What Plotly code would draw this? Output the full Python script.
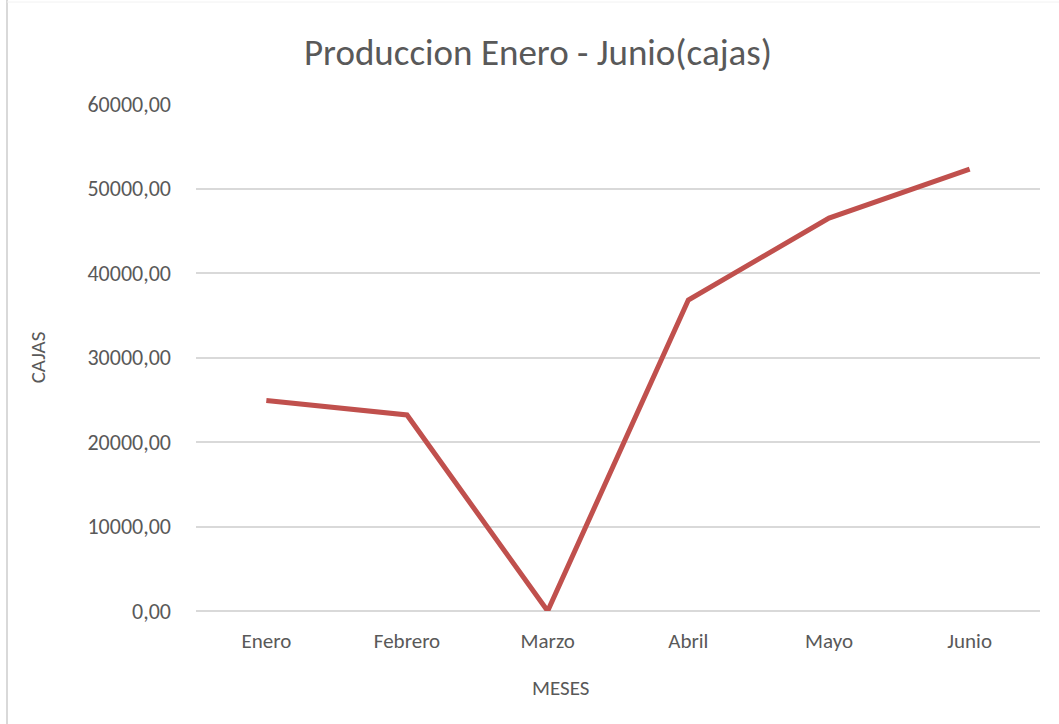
import plotly.graph_objects as go

months = ["Enero", "Febrero", "Marzo", "Abril", "Mayo", "Junio"]
cajas = [24900, 23200, 0, 36800, 46500, 52300]
y_ticks = [0, 10000, 20000, 30000, 40000, 50000, 60000]

FONT = "Carlito, 'Liberation Sans Narrow', Lato, sans-serif"
GREY = "#595959"

fig = go.Figure()
fig.add_trace(go.Scatter(
    x=months, y=cajas, mode="lines",
    line=dict(color="#C0504D", width=5),
    hoverinfo="x+y",
))

PW, PH = 844, 507  # plot area size in px
fig.update_layout(
    width=1059, height=724,
    margin=dict(l=196, r=19, t=104, b=113),
    paper_bgcolor="white", plot_bgcolor="white",
    separators=",.",
    showlegend=False,
    font=dict(family=FONT, color=GREY, size=22),
    title=dict(text="Produccion Enero - Junio(cajas)", x=0.508, xanchor="center",
               y=1 - 52 / 724, yanchor="middle", font=dict(size=37, color=GREY, family=FONT)),
    xaxis=dict(
        range=[-0.5, 5.5], showgrid=False, zeroline=False, showline=False,
        ticks="", tickfont=dict(size=21, color=GREY),
        ticklabelstandoff=15,
    ),
    yaxis=dict(
        range=[0, 60000], tickvals=y_ticks, tickformat=".2f",
        showgrid=True, gridcolor="#d9d9d9", gridwidth=1.5,
        zeroline=True, zerolinecolor="#d9d9d9", zerolinewidth=1.5,
        showline=False, ticks="", tickfont=dict(size=22, color=GREY),
        ticklabelstandoff=24,
        title=dict(text="CAJAS", standoff=36, font=dict(size=21, color=GREY)),
    ),
    annotations=[
        dict(text="MESES", xref="paper", yref="paper",
             x=(560 - 196) / PW, y=(611 - 688) / PH, xanchor="center", yanchor="middle",
             showarrow=False, font=dict(size=21, color=GREY, family=FONT)),
    ],
    shapes=[
        dict(type="line", xref="paper", yref="paper",
             x0=(7 - 196) / PW, x1=(7 - 196) / PW, y0=-113 / PH, y1=(PH + 104) / PH,
             line=dict(color="#d9d9d9", width=2)),
        dict(type="line", xref="paper", yref="paper",
             x0=(7 - 196) / PW, x1=(1059 - 196) / PW, y0=(PH + 102) / PH, y1=(PH + 102) / PH,
             line=dict(color="#f2f2f2", width=1)),
    ],
)

fig.write_html("out.html", config={"displayModeBar": False},
               post_script="document.body.style.margin='0';")
